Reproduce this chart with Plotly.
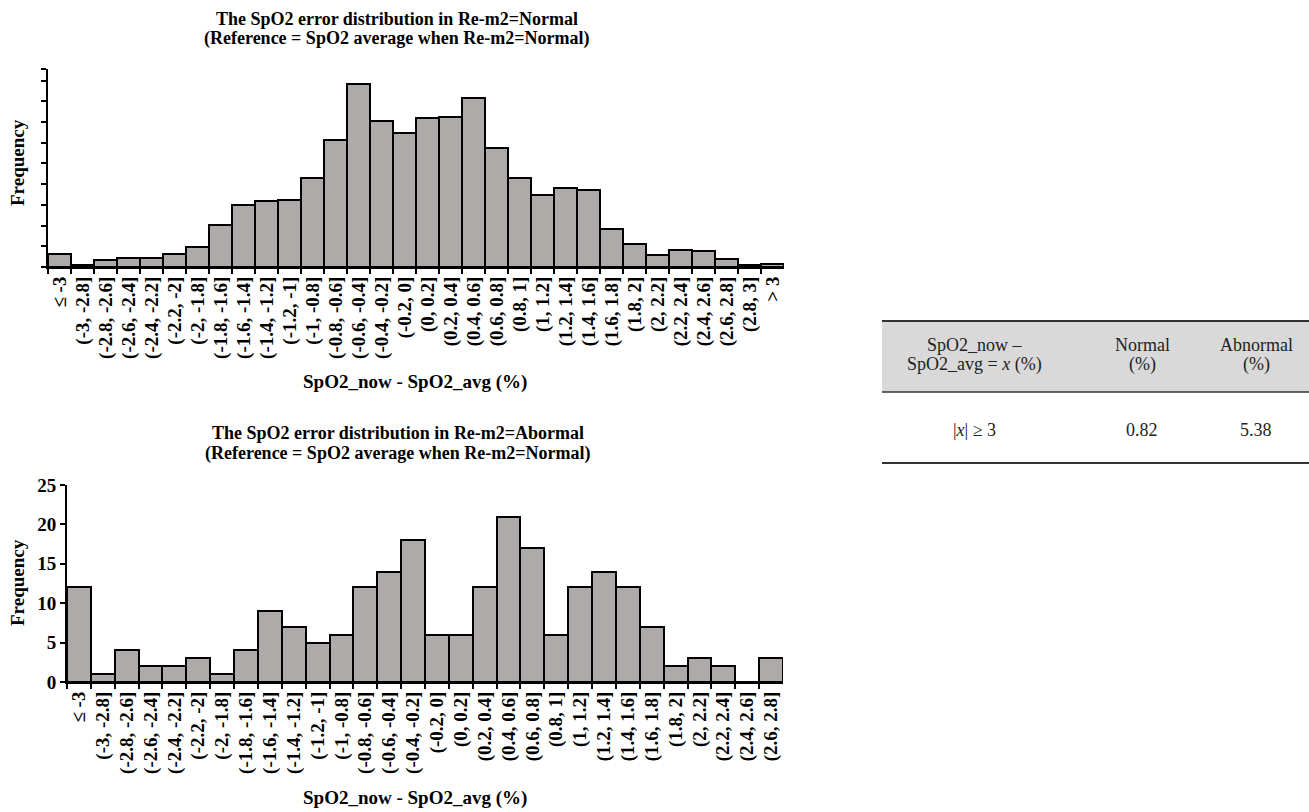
import plotly.graph_objects as go

W, H = 1309, 812

# ---------------- data ----------------
top_labels = ["\u2264 -3", "(-3, -2.8]", "(-2.8, -2.6]", "(-2.6, -2.4]", "(-2.4, -2.2]", "(-2.2, -2]",
              "(-2, -1.8]", "(-1.8, -1.6]", "(-1.6, -1.4]", "(-1.4, -1.2]", "(-1.2, -1]", "(-1, -0.8]",
              "(-0.8, -0.6]", "(-0.6, -0.4]", "(-0.4, -0.2]", "(-0.2, 0]", "(0, 0.2]", "(0.2, 0.4]",
              "(0.4, 0.6]", "(0.6, 0.8]", "(0.8, 1]", "(1, 1.2]", "(1.2, 1.4]", "(1.4, 1.6]",
              "(1.6, 1.8]", "(1.8, 2]", "(2, 2.2]", "(2.2, 2.4]", "(2.4, 2.6]", "(2.6, 2.8]",
              "(2.8, 3]", "> 3"]
top_values = [65, 8, 34, 45, 44, 65, 97, 205, 299, 318, 325, 430, 611, 884, 704, 646,
              719, 722, 816, 575, 431, 347, 381, 372, 183, 111, 60, 81, 76, 40, 11, 16]

bot_labels = top_labels[:30]
bot_values = [12, 1, 4, 2, 2, 3, 1, 4, 9, 7, 5, 6, 12, 14, 18, 6, 6, 12, 21, 17,
              6, 12, 14, 12, 7, 2, 3, 2, 0, 3]

top_title = ["The SpO2 error distribution in Re-m2=Normal",
             "(Reference = SpO2 average when Re-m2=Normal)"]
bot_title = ["The SpO2 error distribution in Re-m2=Abormal",
             "(Reference = SpO2 average when Re-m2=Normal)"]
x_title = "SpO2_now - SpO2_avg (%)"
y_title = "Frequency"

table_header = [["SpO2_now \u2013", "SpO2_avg = <i>x</i> (%)"], ["Normal", "(%)"], ["Abnormal", "(%)"]]
table_row = ["|<i>x</i>| \u2265 3", "0.82", "5.38"]

# ---------------- helpers ----------------
def px(x):
    return x / W

def py(y):
    return 1 - y / H

SERIF = "Liberation Serif"
BAR_COLOR = "#aeaaaa"

fig = go.Figure()
fig.add_trace(go.Bar(x=top_labels, y=top_values, xaxis="x", yaxis="y",
                     marker=dict(color=BAR_COLOR, line=dict(color="black", width=2)),
                     showlegend=False, hoverinfo="x+y"))
fig.add_trace(go.Bar(x=bot_labels, y=bot_values, xaxis="x2", yaxis="y2",
                     marker=dict(color=BAR_COLOR, line=dict(color="black", width=2)),
                     showlegend=False, hoverinfo="x+y"))

xtickfont = dict(family=SERIF, size=19, color="black", weight="bold")
ytickfont = dict(family=SERIF, size=19, color="black", weight="bold")

fig.update_layout(
    width=W, height=H,
    margin=dict(l=0, r=0, t=0, b=0, autoexpand=False),
    paper_bgcolor="white", plot_bgcolor="white",
    bargap=0,
    xaxis=dict(domain=[px(48), px(784)], anchor="y", type="category", automargin=False,
               range=[-0.5, len(top_labels) - 0.5],
               tickmode="array", tickvals=top_labels, ticktext=top_labels,
               showline=True, linecolor="black", linewidth=2,
               ticks="outside", ticklen=5, tickwidth=2, tickcolor="black",
               tickson="boundaries", tickangle=-90, tickfont=xtickfont,
               showgrid=False, zeroline=False),
    yaxis=dict(domain=[py(267), py(69)], anchor="x", automargin=False,
               range=[0, 956],
               tickvals=[0, 100, 200, 300, 400, 500, 600, 700, 800, 900, 956],
               showticklabels=False,
               showline=True, linecolor="black", linewidth=2,
               ticks="outside", ticklen=5, tickwidth=2, tickcolor="black",
               showgrid=False, zeroline=False),
    xaxis2=dict(domain=[px(67), px(783)], anchor="y2", type="category", automargin=False,
                range=[-0.5, len(bot_labels) - 0.5],
                tickmode="array", tickvals=bot_labels, ticktext=bot_labels,
                showline=True, linecolor="black", linewidth=2,
                ticks="outside", ticklen=5, tickwidth=2, tickcolor="black",
                tickson="boundaries", tickangle=-90, tickfont=xtickfont,
                showgrid=False, zeroline=False),
    yaxis2=dict(domain=[py(682), py(485)], anchor="x2", automargin=False,
                range=[0, 25], dtick=5,
                showline=True, linecolor="black", linewidth=2,
                ticks="outside", ticklen=5, tickwidth=2, tickcolor="black",
                tickfont=ytickfont,
                showgrid=False, zeroline=False),
)

ann = []
title_font = dict(family=SERIF, size=18, color="black", weight="bold")
axis_font = dict(family=SERIF, size=19, color="black", weight="bold")
# chart titles
for txt, y in zip(top_title, [19, 38]):
    ann.append(dict(text=txt, x=px(397), y=py(y), xref="paper", yref="paper",
                    showarrow=False, xanchor="center", yanchor="middle", font=title_font))
for txt, y in zip(bot_title, [433, 453]):
    ann.append(dict(text=txt, x=px(398), y=py(y), xref="paper", yref="paper",
                    showarrow=False, xanchor="center", yanchor="middle", font=title_font))
# axis titles
ann.append(dict(text=x_title, x=px(415), y=py(382), xref="paper", yref="paper",
                showarrow=False, xanchor="center", yanchor="middle", font=axis_font))
ann.append(dict(text=x_title, x=px(415), y=py(798), xref="paper", yref="paper",
                showarrow=False, xanchor="center", yanchor="middle", font=axis_font))
ann.append(dict(text=y_title, x=px(17), y=py(163), xref="paper", yref="paper", textangle=-90,
                showarrow=False, xanchor="center", yanchor="middle", font=axis_font))
ann.append(dict(text=y_title, x=px(17), y=py(583), xref="paper", yref="paper", textangle=-90,
                showarrow=False, xanchor="center", yanchor="middle", font=axis_font))

# table
tfont = dict(family=SERIF, size=18, color="#222222")
col_x = [975, 1142, 1256]
for cx, lines in zip(col_x, table_header):
    for txt, y in zip(lines, [345, 364]):
        ann.append(dict(text=txt, x=px(cx), y=py(y), xref="paper", yref="paper",
                        showarrow=False, xanchor="center", yanchor="middle", font=tfont))
for cx, txt in zip(col_x, table_row):
    ann.append(dict(text=txt, x=px(cx), y=py(430), xref="paper", yref="paper",
                    showarrow=False, xanchor="center", yanchor="middle", font=tfont))

shapes = [
    dict(type="rect", xref="paper", yref="paper", x0=px(882), x1=1, y0=py(392), y1=py(321),
         fillcolor="#d9d9d9", line=dict(width=0), layer="below"),
    dict(type="line", xref="paper", yref="paper", x0=px(882), x1=1, y0=py(321), y1=py(321),
         line=dict(color="#333333", width=2)),
    dict(type="line", xref="paper", yref="paper", x0=px(882), x1=1, y0=py(392), y1=py(392),
         line=dict(color="#333333", width=1.5)),
    dict(type="line", xref="paper", yref="paper", x0=px(882), x1=1, y0=py(463), y1=py(463),
         line=dict(color="#333333", width=2)),
]

fig.update_layout(annotations=ann, shapes=shapes)
fig.write_html("out.html")
